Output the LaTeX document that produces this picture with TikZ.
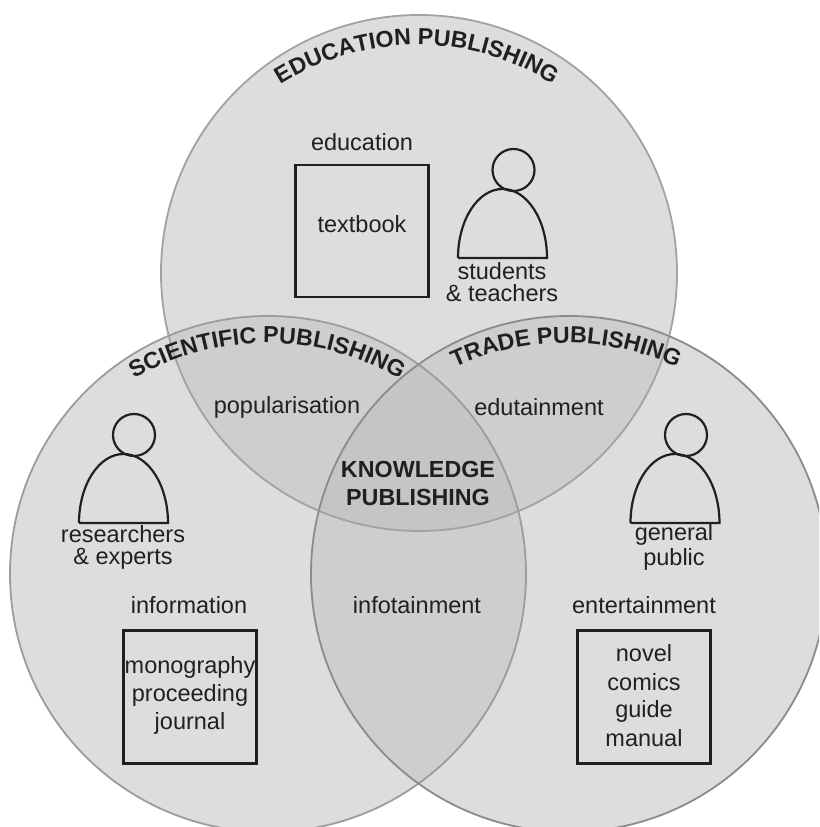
\documentclass[tikz,border=0pt]{standalone}
\usepackage{fontspec}
\setmainfont{Liberation Sans}
\usetikzlibrary{decorations.text}
\definecolor{ink}{HTML}{231F20}
\definecolor{rimtop}{HTML}{A0A2A4}
\definecolor{rimleft}{HTML}{9A9C9E}
\definecolor{rimright}{HTML}{8A8B8E}
\definecolor{one}{HTML}{DCDDDF}
\definecolor{two}{HTML}{CDCED0}
\definecolor{three}{HTML}{C4C5C7}
\tikzset{
  x=1pt,y=1pt,
  lab/.style={inner sep=0pt,text=ink,font=\fontsize{23.5}{26}\selectfont},
  blab/.style={inner sep=0pt,text=ink,font=\bfseries\fontsize{23.3}{26}\selectfont},
  rimline/.style={draw=#1,line width=1.8pt},
  inkline/.style={draw=ink,line width=2.2pt},
  curved/.style={decorate,decoration={text along path,text align=center,text color=ink,
     text={|\bfseries\fontsize{23.2}{24}\selectfont|#1}}},
}
\newcommand{\figperson}[3]{% head x, body centre x, base y
  \draw[inkline] (#1,#3+141) circle[radius=21];
  \draw[inkline] (#2-44.5,#3+53) -- (#2+44.5,#3+53)
     arc[start angle=0,end angle=180,x radius=44.5,y radius=69];
}
\begin{document}
\begin{tikzpicture}
\clip (0,0) rectangle (819,827);
\fill[white] (0,0) rectangle (819,827);
% base discs
\fill[one] (419,554) circle[radius=258];
\fill[one] (268,253) circle[radius=258];
\fill[one] (569,253) circle[radius=258];
% pairwise overlaps
\begin{scope}\clip (419,554) circle[radius=258];\fill[two] (268,253) circle[radius=258];\end{scope}
\begin{scope}\clip (419,554) circle[radius=258];\fill[two] (569,253) circle[radius=258];\end{scope}
\begin{scope}\clip (268,253) circle[radius=258];\fill[two] (569,253) circle[radius=258];\end{scope}
% triple overlap
\begin{scope}\clip (419,554) circle[radius=258];\clip (268,253) circle[radius=258];\fill[three] (569,253) circle[radius=258];\end{scope}
% rims
\draw[rimline=rimtop] (419,554) circle[radius=258];
\draw[rimline=rimleft] (268,253) circle[radius=258];
\draw[rimline=rimright] (569,253) circle[radius=258];
% curved titles
\path[curved=EDUCATION PUBLISHING] ([shift={(417,527)}]150:255pt) arc[start angle=150,end angle=30,radius=255pt];
\path[curved=SCIENTIFIC PUBLISHING] ([shift={(267,222)}]150:262pt) arc[start angle=150,end angle=30,radius=262pt];
\path[curved=TRADE PUBLISHING] ([shift={(566,219)}]150:265pt) arc[start angle=150,end angle=30,radius=265pt];
% boxes
\node[inkline,minimum width=133pt,minimum height=132pt,inner sep=0pt] (boxa) at (362,596) {};
\node[inkline,minimum width=133pt,minimum height=133pt,inner sep=0pt] (boxb) at (190,130) {};
\node[inkline,minimum width=133pt,minimum height=133pt,inner sep=0pt] (boxc) at (644,130) {};
% people
\figperson{513.5}{502.5}{516}
\figperson{134}{123.5}{251}
\figperson{686}{675}{251}
% labels
\node[lab] (t1) at (362,685) {education};
\node[lab] (t2) at (362,603) {textbook};
\node[lab] (t3) at (502,556) {students};
\node[lab] (t4) at (502,534) {\& teachers};
\node[lab] (t5) at (287,420) {popularisation};
\node[lab] (t6) at (539,420) {edutainment};
\node[blab] (t7) at (418,358) {KNOWLEDGE};
\node[blab] (t8) at (418,330) {PUBLISHING};
\node[lab] (t9) at (123,293) {researchers};
\node[lab] (t10) at (123,268) {\& experts};
\node[lab] (t11) at (674,293) {general};
\node[lab] (t12) at (674,268) {public};
\node[lab] (t13) at (189,222) {information};
\node[lab] (t14) at (417,222) {infotainment};
\node[lab] (t15) at (644,222) {entertainment};
\node[lab] (t16) at (190,160) {monography};
\node[lab] (t17) at (190,132) {proceeding};
\node[lab] (t18) at (190,104) {journal};
\node[lab] (t19) at (644,174) {novel};
\node[lab] (t20) at (644,145) {comics};
\node[lab] (t21) at (644,116) {guide};
\node[lab] (t22) at (644,89) {manual};
\end{tikzpicture}
\end{document}
